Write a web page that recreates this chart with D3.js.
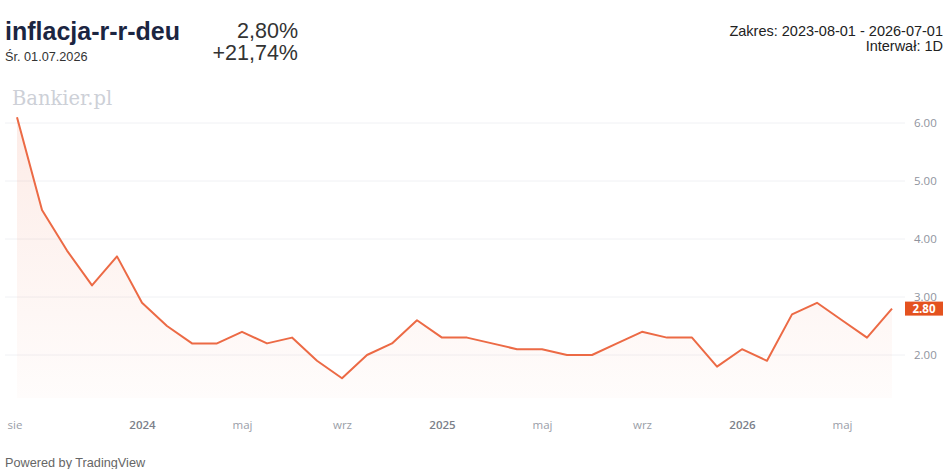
<!DOCTYPE html>
<html>
<head>
<meta charset="utf-8">
<script src="https://cdn.jsdelivr.net/npm/d3@7"></script>
<style>
  html, body { margin: 0; padding: 0; background: #fff; }
  svg { display: block; }
</style>
</head>
<body>
<svg id="chart" width="948" height="469"></svg>
<script>
// monthly readings, 2023-08 .. 2026-07
const months = [
  "2023-08","2023-09","2023-10","2023-11","2023-12",
  "2024-01","2024-02","2024-03","2024-04","2024-05","2024-06","2024-07","2024-08","2024-09","2024-10","2024-11","2024-12",
  "2025-01","2025-02","2025-03","2025-04","2025-05","2025-06","2025-07","2025-08","2025-09","2025-10","2025-11","2025-12",
  "2026-01","2026-02","2026-03","2026-04","2026-05","2026-06","2026-07"
];
const values = [
  6.1, 4.5, 3.8, 3.2, 3.7,
  2.9, 2.5, 2.2, 2.2, 2.4, 2.2, 2.3, 1.9, 1.6, 2.0, 2.2, 2.6,
  2.3, 2.3, 2.2, 2.1, 2.1, 2.0, 2.0, 2.2, 2.4, 2.3, 2.3, 1.8,
  2.1, 1.9, 2.7, 2.9, 2.6, 2.3, 2.8
];
const xTickMonths = ["2023-08","2024-01","2024-05","2024-09","2025-01","2025-05","2025-09","2026-01","2026-05"];
const xTickLabels = ["sie","2024","maj","wrz","2025","maj","wrz","2026","maj"];
const yTicks = [2, 3, 4, 5, 6];

const data = months.map((m, i) => ({ m: m, v: values[i] }));

const svg = d3.select("#chart");
const paneLeft = 5, paneRight = 905, paneBottom = 398;
const sans = "Liberation Sans, Arial, sans-serif";
const axisFont = "Open Sans, Liberation Sans, sans-serif";

const x = d3.scalePoint()
  .domain(months)
  .range([17, 892]);

const y = d3.scaleLinear()
  .domain([2, 6])
  .range([355, 123]);

const lineColor = "#ec6a45";

// header
svg.append("text").attr("x", 5).attr("y", 40)
  .attr("font-family", sans)
  .attr("font-size", 25).attr("font-weight", "bold").attr("fill", "#1b2541")
  .text("inflacja-r-r-deu");
svg.append("text").attr("x", 5).attr("y", 61)
  .attr("font-family", sans)
  .attr("font-size", 12.7).attr("fill", "#333")
  .text("Śr. 01.07.2026");
svg.append("text").attr("x", 298).attr("y", 38).attr("text-anchor", "end")
  .attr("font-family", sans)
  .attr("font-size", 21.5).attr("fill", "#333")
  .text("2,80%");
svg.append("text").attr("x", 298).attr("y", 60).attr("text-anchor", "end")
  .attr("font-family", sans)
  .attr("font-size", 21.5).attr("fill", "#333")
  .text("+21,74%");
svg.append("text").attr("x", 943).attr("y", 36).attr("text-anchor", "end")
  .attr("font-family", sans)
  .attr("font-size", 14.5).attr("fill", "#222")
  .text("Zakres: 2023-08-01 - 2026-07-01");
svg.append("text").attr("x", 943).attr("y", 51).attr("text-anchor", "end")
  .attr("font-family", sans)
  .attr("font-size", 14.5).attr("fill", "#222")
  .text("Interwał: 1D");

// watermark
svg.append("text").attr("x", 12).attr("y", 105)
  .attr("font-family", "DejaVu Serif, Liberation Serif, serif")
  .attr("font-size", 19.5).attr("fill", "#cdd0d7")
  .text("Bankier.pl");

// grid
svg.append("g").selectAll("line").data(yTicks).join("line")
  .attr("x1", paneLeft).attr("x2", paneRight)
  .attr("y1", d => y(d)).attr("y2", d => y(d))
  .attr("stroke", "#f0f1f4").attr("stroke-width", 1);

// area gradient
const defs = svg.append("defs");
const grad = defs.append("linearGradient").attr("id", "fillGrad")
  .attr("x1", 0).attr("y1", 0).attr("x2", 0).attr("y2", 1);
grad.append("stop").attr("offset", "0%").attr("stop-color", lineColor).attr("stop-opacity", 0.13);
grad.append("stop").attr("offset", "100%").attr("stop-color", lineColor).attr("stop-opacity", 0.02);

const area = d3.area()
  .x(d => x(d.m))
  .y0(paneBottom)
  .y1(d => y(d.v));
svg.append("path").datum(data)
  .attr("d", area)
  .attr("fill", "url(#fillGrad)");

const line = d3.line()
  .x(d => x(d.m))
  .y(d => y(d.v));
svg.append("path").datum(data)
  .attr("d", line)
  .attr("fill", "none")
  .attr("stroke", lineColor)
  .attr("stroke-width", 2)
  .attr("stroke-linejoin", "round");

// price axis
const yAxis = d3.axisRight(y).tickValues(yTicks).tickFormat(d3.format(".2f")).tickSize(0).tickPadding(0);
const gy = svg.append("g").attr("transform", `translate(914,0)`).call(yAxis);
gy.select(".domain").remove();
gy.selectAll("text")
  .attr("font-family", axisFont)
  .attr("font-size", 11.5).attr("fill", "#8f939e");

// last value label (drawn over the 3.00 tick, as in the source)
const last = data[data.length - 1];
svg.append("rect")
  .attr("x", 905).attr("y", y(last.v) - 7).attr("width", 38).attr("height", 14)
  .attr("fill", "#e4521f");
svg.append("text")
  .attr("x", 924).attr("y", y(last.v) + 4).attr("text-anchor", "middle")
  .attr("font-family", axisFont)
  .attr("font-size", 11.5).attr("font-weight", "bold").attr("fill", "#fff")
  .text(d3.format(".2f")(last.v));

// time axis
const xAxis = d3.axisBottom(x).tickValues(xTickMonths)
  .tickFormat((d, i) => xTickLabels[i]).tickSize(0).tickPadding(0);
const gx = svg.append("g").attr("transform", `translate(0,421)`).call(xAxis);
gx.select(".domain").remove();
gx.selectAll("text")
  .attr("font-family", axisFont)
  .attr("font-size", 11.5)
  .attr("fill", (d, i) => /^\d{4}$/.test(xTickLabels[i]) ? "#7b7f8a" : "#9a9ea8")
  .attr("font-weight", (d, i) => /^\d{4}$/.test(xTickLabels[i]) ? "600" : "normal");
// first label sits left-aligned at pane edge
gx.selectAll("text").filter((d, i) => i === 0).attr("text-anchor", "start").attr("x", -10);

svg.append("text").attr("x", 5).attr("y", 467)
  .attr("font-family", sans)
  .attr("font-size", 12.7).attr("fill", "#666")
  .text("Powered by TradingView");
</script>
</body>
</html>
